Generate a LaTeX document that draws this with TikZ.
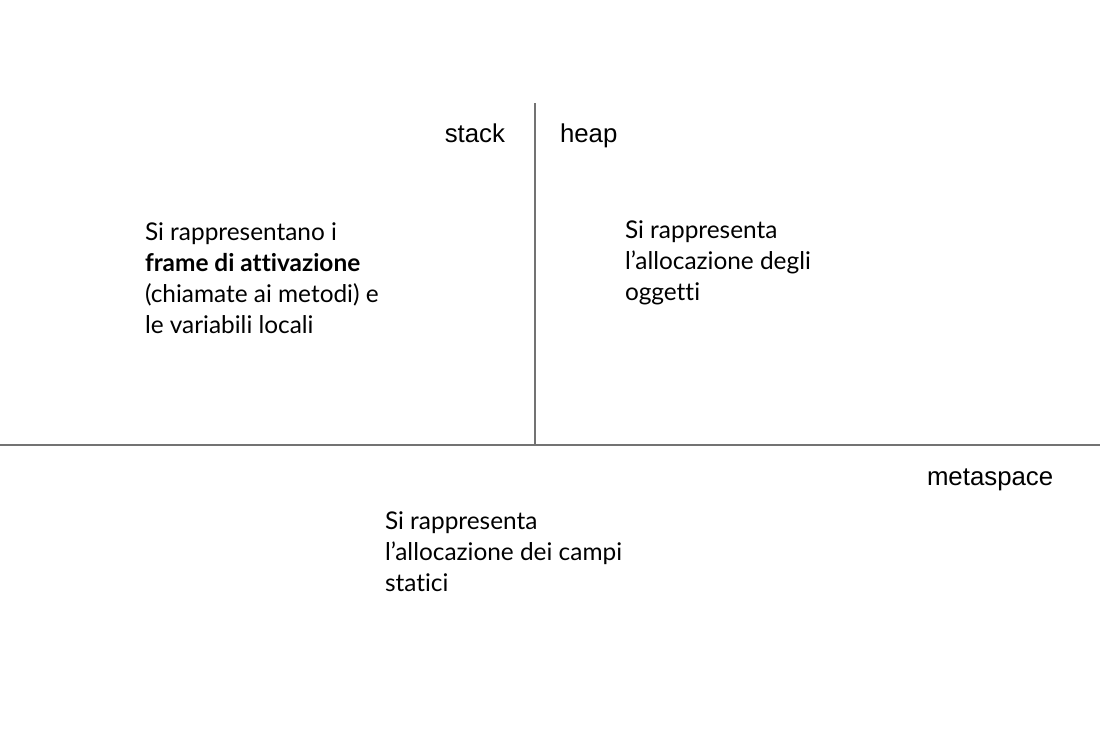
\documentclass[tikz,border=0pt]{standalone}
\usepackage{fontspec}
\setmainfont{Lato}[Ligatures=NoCommon]
\newfontfamily\arialfont{Liberation Sans}
\usetikzlibrary{positioning}

\begin{document}
\begin{tikzpicture}[x=0.5pt, y=-0.5pt]
  \tikzstyle{region} = [inner sep=0pt, outer sep=0pt, font=\arialfont\fontsize{12.9}{15}\selectfont]
  \tikzstyle{note} = [inner sep=0pt, outer sep=0pt, align=left, font=\fontsize{12.2}{15.5}\selectfont]
  \tikzstyle{divider} = [draw=black!55, line width=0.75pt]
  \useasboundingbox (0,0) rectangle (1100,739);
  % Place nodes (notes anchored at the baseline of their last line)
  \coordinate (cross) at (535,445);
  \coordinate (top) at (535,103);
  \coordinate (west) at (0,445);
  \coordinate (east) at (1100,445);
  \node [region, anchor=base east] (stack) at (505,142) {stack};
  \node [region, anchor=base west] (heap) at (560,142) {heap};
  \node [region, anchor=base west] (metaspace) at (927,485) {metaspace};
  \node [note, anchor=base west] (stack-note) at (145,333) {Si rappresentano i\\\textbf{frame di attivazione}\\(chiamate ai metodi) e\\le variabili locali};
  \node [note, anchor=base west] (heap-note) at (625,300) {Si rappresenta\\l’allocazione degli\\oggetti};
  \node [note, anchor=base west] (meta-note) at (385,591) {Si rappresenta\\l’allocazione dei campi\\statici};

  \path [divider] (top) -- (cross);
  \path [divider] (west) -- (east);
\end{tikzpicture}
\end{document}
